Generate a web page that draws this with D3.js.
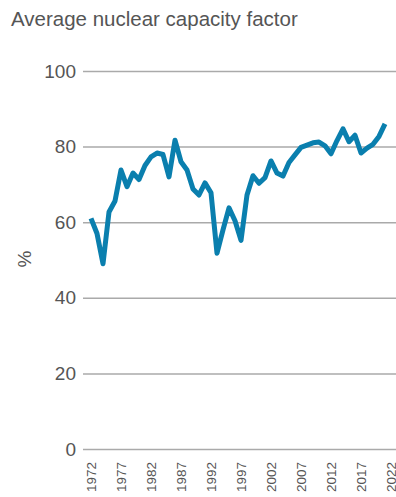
<!DOCTYPE html>
<html><head><meta charset="utf-8">
<script src="https://cdn.jsdelivr.net/npm/d3@7"></script>
<style>
body{margin:0;background:#fff;}
svg{display:block;font-family:"Liberation Sans",Arial,sans-serif;}
</style></head>
<body>
<svg id="c" width="396" height="497"></svg>
<script>
const years = [1972,1973,1974,1975,1976,1977,1978,1979,1980,1981,1982,1983,1984,1985,1986,1987,1988,1989,1990,1991,1992,1993,1994,1995,1996,1997,1998,1999,2000,2001,2002,2003,2004,2005,2006,2007,2008,2009,2010,2011,2012,2013,2014,2015,2016,2017,2018,2019,2020,2021];
const capacityFactor = [61,57,49,62.7,65.6,73.8,69.4,73,71.3,75,77.3,78.3,77.9,72,81.7,76,73.8,68.8,67.2,70.4,67.8,51.8,58,63.8,60.4,55.2,67.2,72.3,70.3,71.8,76.2,73,72.2,75.8,77.8,79.8,80.4,81,81.2,80.2,78.1,81.6,84.7,81.3,83,78.3,79.6,80.6,82.7,86];
const yTicks = [0,20,40,60,80,100];
const xTicks = [1972,1977,1982,1987,1992,1997,2002,2007,2012,2017,2022];
const title = "Average nuclear capacity factor";
const yLabel = "%";

const svg = d3.select("#c");
const x = d3.scaleLinear().domain([1972,2022]).range([91,391]);
const y = d3.scaleLinear().domain([0,100]).range([449,71]);
const txt = "#555";

svg.append("text").attr("x",11).attr("y",26).attr("fill",txt)
  .style("font-size","20.5px").text(title);

const ya = svg.append("g").attr("transform","translate(83,0)")
  .call(d3.axisLeft(y).tickValues(yTicks).tickSize(-313).tickPadding(7).tickFormat(d3.format("d")));
ya.select(".domain").remove();
ya.selectAll(".tick line").attr("stroke","#aaa").attr("stroke-width",1.5);
ya.selectAll(".tick text").attr("fill",txt).style("font-size","19px").style("font-family","Liberation Sans, Arial, sans-serif");

svg.append("text").attr("transform","translate(31,259) rotate(-90)")
  .attr("text-anchor","middle").attr("fill",txt).style("font-size","19px").text(yLabel);

const xa = svg.append("g").attr("transform","translate(0,449)")
  .call(d3.axisBottom(x).tickValues(xTicks).tickSize(0).tickFormat(d3.format("d")));
xa.select(".domain").remove();
xa.selectAll(".tick text").attr("fill",txt).style("font-size","13.5px").style("font-family","Liberation Sans, Arial, sans-serif")
  .attr("transform","rotate(-90)").attr("text-anchor","end").attr("x",-13).attr("y",0).attr("dy","0.36em");

const line = d3.line().x((d,i)=>x(years[i])).y(d=>y(d));
svg.append("path").datum(capacityFactor).attr("d",line).attr("fill","none")
  .attr("stroke","#0a7fae").attr("stroke-width",5).attr("stroke-linejoin","round").attr("stroke-linecap","butt");
</script>
</body></html>
